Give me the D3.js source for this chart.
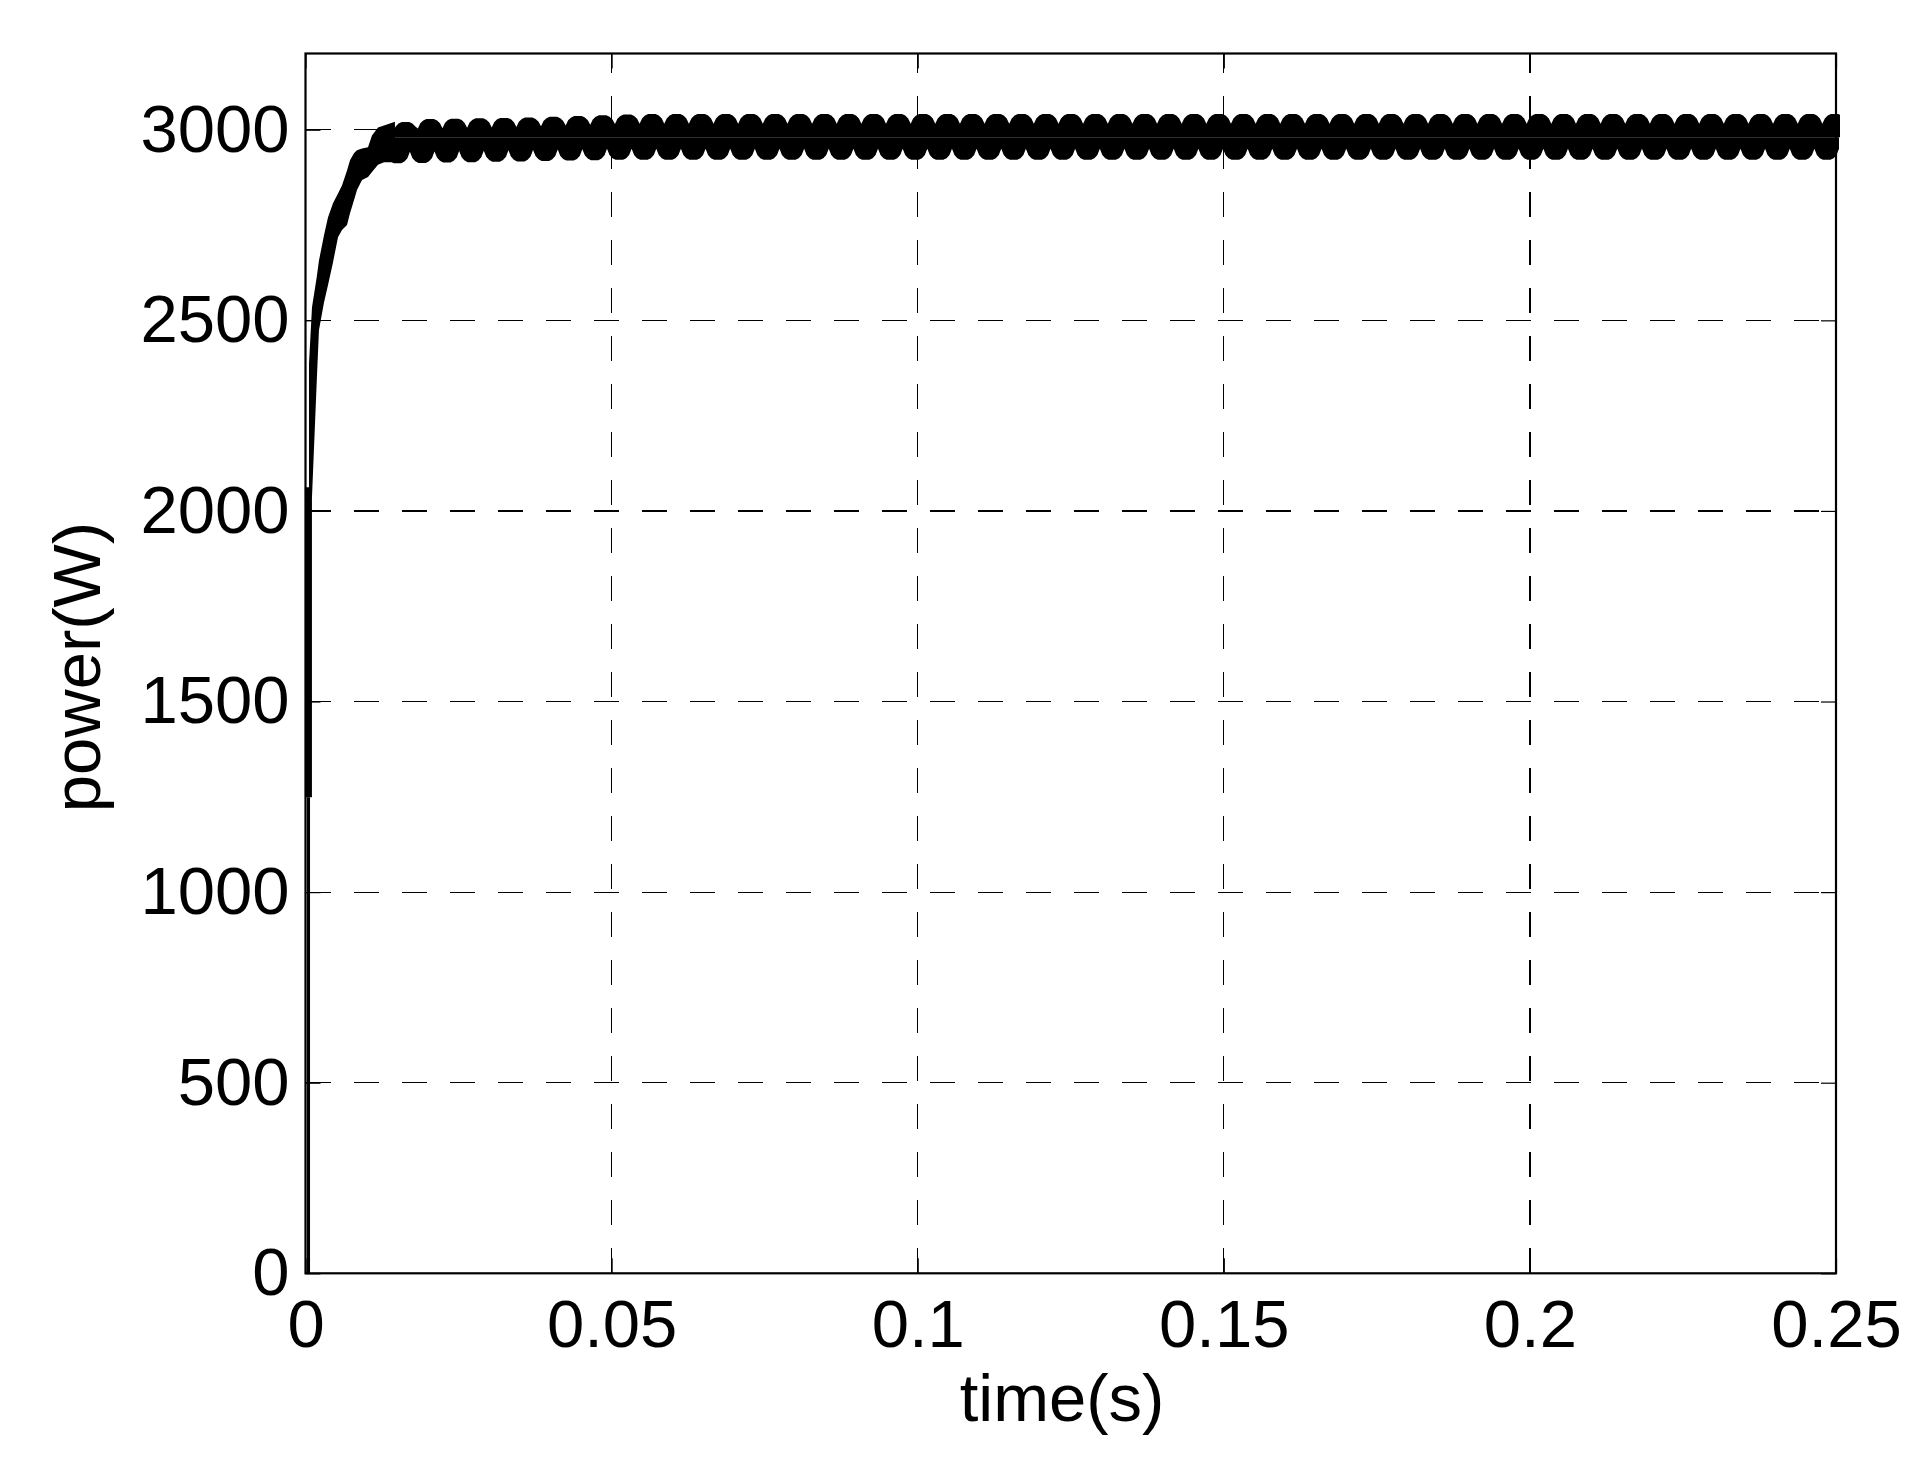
<!DOCTYPE html>
<html>
<head>
<meta charset="utf-8">
<script src="https://cdn.jsdelivr.net/npm/d3@7"></script>
<style>
  body { margin: 0; background: #fff; }
  text { font-family: "Liberation Sans", Arial, sans-serif; }
</style>
</head>
<body>
<svg id="chart"></svg>
<script>
// axis ticks
const xTicks = [0, 0.05, 0.1, 0.15, 0.2, 0.25];
const yTicks = [0, 500, 1000, 1500, 2000, 2500, 3000];

// vertical start of the trace (t, W)
const stemT = [0.00048, 0.00048, 0.00048];
const stemP = [0, 1249, 2062];

// transient band, upper and lower edge
const riseT  = [0.00057, 0.00106, 0.00183, 0.00220, 0.00302, 0.00367, 0.00449, 0.00531, 0.00596, 0.00678,
                0.00727, 0.00792, 0.00841, 0.00923, 0.01021, 0.01086, 0.01184, 0.01282, 0.01461];
const riseHi = [2387, 2534, 2613, 2657, 2723, 2770, 2807, 2833, 2854, 2893,
                2920, 2938, 2946, 2951, 2954, 2985, 3006, 3011, 3021];
const riseLo = [2036, 2036, 2337, 2474, 2547, 2592, 2652, 2718, 2737, 2750,
                2781, 2815, 2842, 2868, 2876, 2889, 2908, 2915, 2915];

// ripple band: notch times of the upper edge, hump levels per cycle
const notchT = [0.01432, 0.01835, 0.02237, 0.02640, 0.03042, 0.03445, 0.03847, 0.04250, 0.04652, 0.05055,
                0.05457, 0.05860, 0.06262, 0.06665, 0.07067, 0.07470, 0.07872, 0.08275, 0.08677, 0.09080,
                0.09482, 0.09885, 0.10287, 0.10690, 0.11092, 0.11495, 0.11897, 0.12300, 0.12702, 0.13105,
                0.13507, 0.13910, 0.14312, 0.14715, 0.15117, 0.15520, 0.15922, 0.16325, 0.16727, 0.17130,
                0.17532, 0.17935, 0.18337, 0.18740, 0.19142, 0.19545, 0.19947, 0.20350, 0.20752, 0.21155,
                0.21557, 0.21960, 0.22362, 0.22765, 0.23167, 0.23570, 0.23972, 0.24375, 0.24777];
const topHump = [3020, 3028, 3029, 3030, 3031, 3032, 3034, 3036, 3038, 3040,
                 3041, 3041, 3041, 3041, 3041, 3041, 3041, 3041, 3041, 3041,
                 3041, 3041, 3041, 3041, 3041, 3041, 3041, 3041, 3041, 3041,
                 3041, 3041, 3041, 3041, 3041, 3041, 3041, 3041, 3041, 3041,
                 3041, 3041, 3041, 3041, 3041, 3041, 3041, 3041, 3041, 3041,
                 3041, 3041, 3041, 3041, 3041, 3041, 3041, 3041, 3041];
const botHump = [2912, 2913, 2914, 2915, 2916, 2917, 2918, 2919, 2920, 2921,
                 2921, 2921, 2921, 2921, 2921, 2921, 2921, 2921, 2921, 2921,
                 2921, 2921, 2921, 2921, 2921, 2921, 2921, 2921, 2921, 2921,
                 2921, 2921, 2921, 2921, 2921, 2921, 2921, 2921, 2921, 2921,
                 2921, 2921, 2921, 2921, 2921, 2921, 2921, 2921, 2921, 2921,
                 2921, 2921, 2921, 2921, 2921, 2921, 2921, 2921, 2921];
const topDepth = 25, botDepth = 29, bandMid = 2980, lowerShift = -0.0013;
// shape of one scallop (fraction of cycle, fraction of hump height)
const humpShape = [[0, 0], [0.1, 0.55], [0.22, 0.85], [0.35, 1], [0.65, 1], [0.78, 0.85], [0.9, 0.55], [1, 0]];

const W = 1920, H = 1461;
const L = 305.5, R = 1836, T = 53.5, B = 1273.3;
const fontSize = 67;

const svg = d3.select('#chart').attr('width', W).attr('height', H);
svg.append('rect').attr('width', W).attr('height', H).attr('fill', '#fff');

const x = d3.scaleLinear().domain([0, 0.25]).range([L, R]);
const y = d3.scaleLinear().domain([0, 3200]).range([B, T]);

//GRID
const grid = svg.append('g')
  .attr('stroke', '#000')
  .attr('stroke-width', 1.2)
  .attr('stroke-dasharray', '25,23')
  .attr('shape-rendering', 'crispEdges');

grid.selectAll('.hgrid')
  .data(yTicks.filter((d) => d > 0))
  .enter()
  .append('line')
  .attr('x1', L).attr('x2', R)
  .attr('y1', (d) => y(d)).attr('y2', (d) => y(d));

grid.selectAll('.vgrid')
  .data(xTicks.filter((d) => d > 0 && d < 0.25))
  .enter()
  .append('line')
  .attr('x1', (d) => x(d)).attr('x2', (d) => x(d))
  .attr('y1', B).attr('y2', T);

//AXES
const fmt = (d) => String(d);
const tickLen = 15;

const xAxis = svg.append('g')
  .attr('transform', `translate(0,${B})`)
  .call(d3.axisBottom(x).tickValues(xTicks).tickFormat(fmt).tickSizeInner(-tickLen).tickSizeOuter(0).tickPadding(26));
const yAxis = svg.append('g')
  .attr('transform', `translate(${L},0)`)
  .call(d3.axisLeft(y).tickValues(yTicks).tickFormat(fmt).tickSizeInner(-tickLen).tickSizeOuter(0).tickPadding(16));
svg.append('g')
  .attr('transform', `translate(0,${T})`)
  .call(d3.axisTop(x).tickValues(xTicks).tickFormat('').tickSizeInner(-tickLen).tickSizeOuter(0));
svg.append('g')
  .attr('transform', `translate(${R},0)`)
  .call(d3.axisRight(y).tickValues(yTicks).tickFormat('').tickSizeInner(-tickLen).tickSizeOuter(0));

svg.selectAll('.domain').remove();
svg.selectAll('.tick line').attr('stroke', '#000').attr('stroke-width', 1.2);
svg.selectAll('.tick text')
  .attr('fill', '#000')
  .style('font-family', '"Liberation Sans", Arial, sans-serif')
  .style('font-size', fontSize + 'px');

//DATA
svg.append('clipPath').attr('id', 'clip')
  .append('rect').attr('x', L - 6).attr('y', T - 6).attr('width', R - L + 10).attr('height', B - T + 12);

const plot = svg.append('g').attr('clip-path', 'url(#clip)');

// stem: thin part then thick part
const stemWidth = [3.2, 7];
for (let i = 0; i < stemT.length - 1; i++) {
  plot.append('line')
    .attr('x1', x(stemT[i])).attr('x2', x(stemT[i + 1]))
    .attr('y1', y(stemP[i])).attr('y2', y(stemP[i + 1]))
    .attr('stroke', '#000')
    .attr('stroke-width', stemWidth[i]);
}

const rise = riseT.map((t, i) => ({ t, hi: riseHi[i], lo: riseLo[i] }));
plot.append('path')
  .datum(rise)
  .attr('fill', '#000')
  .attr('d', d3.area().x((d) => x(d.t)).y0((d) => y(d.lo)).y1((d) => y(d.hi)));

const upperPts = [], lowerPts = [];
notchT.forEach((t0, k) => {
  const last = k === notchT.length - 1;
  const t1 = last ? t0 + (t0 - notchT[k - 1]) : notchT[k + 1];
  humpShape.forEach(([f, s], j) => {
    if (j === humpShape.length - 1 && !last) return;
    upperPts.push({ t: t0 + f * (t1 - t0), p: topHump[k] - topDepth * (1 - s) });
    lowerPts.push({ t: t0 + lowerShift + f * (t1 - t0), p: botHump[k] + botDepth * (1 - s) });
  });
});

plot.append('path')
  .datum(upperPts)
  .attr('fill', '#000')
  .attr('d', d3.area().x((d) => x(d.t)).y0(y(bandMid)).y1((d) => y(d.p)));
plot.append('path')
  .datum(lowerPts)
  .attr('fill', '#000')
  .attr('d', d3.area().x((d) => x(d.t)).y0((d) => y(d.p)).y1(y(bandMid)));

//FRAME
svg.append('rect')
  .attr('x', L).attr('y', T)
  .attr('width', R - L).attr('height', B - T)
  .attr('fill', 'none')
  .attr('stroke', '#000')
  .attr('stroke-width', 2.2);

//TITLES
svg.append('text')
  .attr('x', 1062)
  .attr('y', 1421)
  .attr('text-anchor', 'middle')
  .style('font-size', fontSize + 'px')
  .text('time(s)');

svg.append('text')
  .attr('transform', 'translate(100,667) rotate(-90)')
  .attr('text-anchor', 'middle')
  .style('font-size', fontSize + 'px')
  .text('power(W)');
</script>
</body>
</html>
